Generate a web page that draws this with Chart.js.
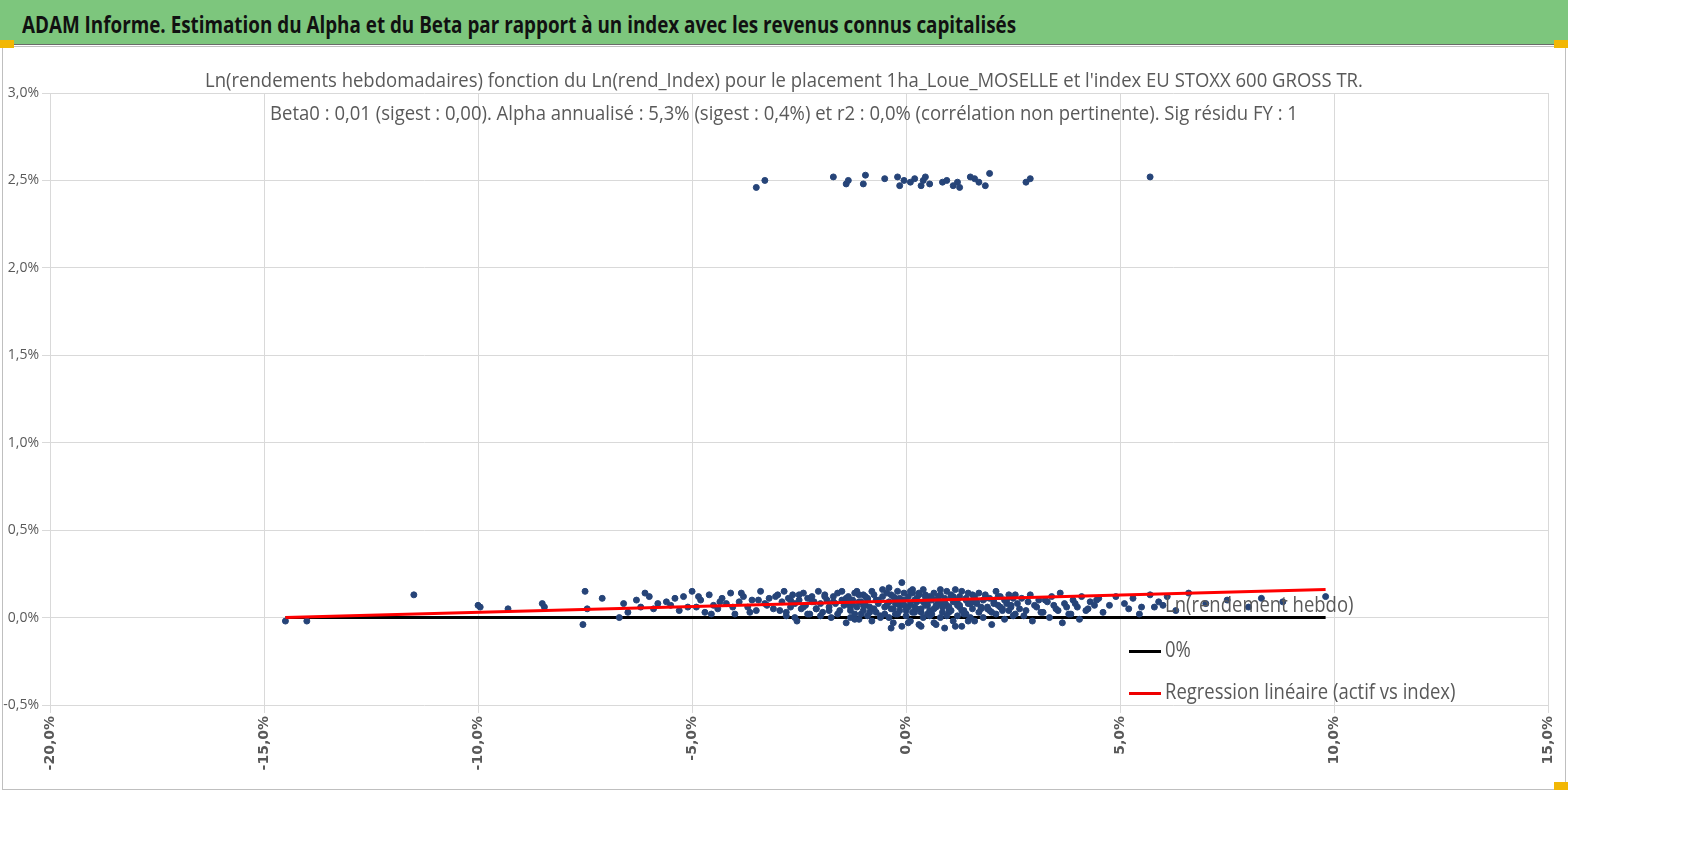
<!DOCTYPE html>
<html>
<head>
<meta charset="utf-8">
<script src="https://cdn.jsdelivr.net/npm/chart.js@4/dist/chart.umd.min.js"></script>
<style>
  body { margin: 0; background: #fff; width: 1698px; height: 855px; overflow: hidden; font-family: "Open Sans", "DejaVu Sans", sans-serif; }
  #header { position: absolute; left: 0; top: 0; width: 1568px; height: 44px; background: #7dc67d; border-bottom: 1px solid #6a6a6a; }
  #header span { position: absolute; left: 22px; top: 7px; font-size: 24px; font-weight: bold; color: #111; white-space: nowrap; transform: scaleX(0.785); transform-origin: left center; }
  #frame { position: absolute; left: 2px; top: 46px; width: 1562px; height: 742px; border: 1px solid #bfbfbf; }
  #wrap { position: absolute; left: 0; top: 48px; width: 1568px; height: 742px; }
  .sub { position: absolute; left: 0; width: 1568px; text-align: center; color: #595959; font-size: 20px; white-space: nowrap; transform: scaleX(0.925); transform-origin: center center; }
  .leg { position: absolute; color: #595959; font-size: 21px; white-space: nowrap; transform: scaleX(0.88); transform-origin: left center; }
  .legline { position: absolute; height: 3px; width: 32px; }
  .corner { position: absolute; width: 14px; height: 8px; background: #f2b705; }
</style>
</head>
<body>
<div id="header"><span>ADAM Informe. Estimation du Alpha et du Beta par rapport à un index avec les revenus connus capitalisés</span></div>
<div id="frame"></div>
<div id="wrap"><canvas id="c" width="1568" height="742"></canvas></div>
<div class="sub" style="top:66px">Ln(rendements hebdomadaires) fonction du Ln(rend_Index) pour le placement 1ha_Loue_MOSELLE et l'index EU STOXX 600 GROSS TR.</div>
<div class="sub" style="top:99px">Beta0 : 0,01 (sigest : 0,00). Alpha annualisé : 5,3% (sigest : 0,4%) et r2 : 0,0% (corrélation non pertinente). Sig résidu FY : 1</div>
<div class="leg" style="left:1165px;top:590px">Ln(rendement hebdo)</div>
<div class="legline" style="left:1129px;top:650px;background:#000"></div>
<div class="leg" style="left:1165px;top:635px">0%</div>
<div class="legline" style="left:1129px;top:692px;background:#e00"></div>
<div class="leg" style="left:1165px;top:677px">Regression linéaire (actif vs index)</div>
<div class="corner" style="left:0;top:40px"></div>
<div class="corner" style="left:1554px;top:40px"></div>
<div class="corner" style="left:1554px;top:782px"></div>
<script>
// --- DATA (percent units) ---
// weeks where the asset jumped ~2,5%
const highX = [-3.5, -3.3, -1.7, -1.4, -1.35, -1.0, -0.95, -0.5, -0.2, -0.15, -0.05, 0.1, 0.2, 0.35, 0.4, 0.45, 0.55, 0.85, 0.95, 1.1, 1.2, 1.25, 1.5, 1.6, 1.7, 1.85, 1.95, 2.8, 2.9, 5.7];
const highY = [2.46, 2.5, 2.52, 2.48, 2.5, 2.48, 2.53, 2.51, 2.52, 2.47, 2.5, 2.49, 2.51, 2.47, 2.5, 2.52, 2.48, 2.49, 2.5, 2.47, 2.49, 2.46, 2.52, 2.51, 2.49, 2.47, 2.54, 2.49, 2.51, 2.52];

// tails of the usual weeks
const tailX = [-14.5, -14.0, -11.5, -10.0, -9.95, -9.3, -8.5, -8.45, -7.55, -7.5, -7.45, -7.1, -6.7, -6.6, -6.5, -6.3, -6.2, -6.1, -6.0, -5.9, -5.8, -5.6, -5.5, -5.4, -5.3, -5.2, -5.1, -5.0,
  5.1, 5.2, 5.3, 5.45, 5.5, 5.7, 5.8, 5.9, 6.0, 6.1, 6.3, 6.6, 7.0, 7.5, 8.0, 8.3, 8.8, 9.8];
const tailY = [-0.02, -0.02, 0.13, 0.07, 0.06, 0.05, 0.08, 0.06, -0.04, 0.15, 0.05, 0.11, 0.0, 0.08, 0.03, 0.1, 0.06, 0.14, 0.12, 0.05, 0.08, 0.09, 0.07, 0.11, 0.04, 0.12, 0.06, 0.15,
  0.08, 0.05, 0.11, 0.02, 0.06, 0.13, 0.06, 0.09, 0.07, 0.12, 0.04, 0.14, 0.08, 0.1, 0.06, 0.11, 0.09, 0.12];

// dense core of the usual weeks
const coreX = [
  -4.9, -4.8, -4.7, -4.6, -4.5, -4.4, -4.3, -4.2, -4.1, -4.0, -3.9, -3.8, -3.7, -3.6, -3.5, -3.4, -3.3, -3.2, -3.1, -3.0,
  -4.85, -4.55, -4.35, -4.05, -3.85, -3.65, -3.45, -3.25, -3.05, -2.95, -2.9, -2.85, -2.8, -2.75, -2.7, -2.65, -2.6, -2.55, -2.5, -2.45,
  -2.4, -2.35, -2.3, -2.25, -2.2, -2.15, -2.1, -2.05, -2.0, -1.95, -1.9, -1.85, -1.8, -1.75, -1.7, -1.65, -1.6, -1.55, -1.5, -1.45,
  -2.8, -2.6, -2.4, -2.2, -2.0, -1.8, -1.6, -1.4, -1.2, -1.0, -2.7, -2.5, -2.3, -2.1, -1.9, -1.7, -1.5, -1.3, -1.1, -0.9,
  -1.4, -1.35, -1.3, -1.25, -1.2, -1.15, -1.1, -1.05, -1.0, -0.95, -0.9, -0.85, -0.8, -0.75, -0.7, -0.65, -0.6, -0.55, -0.5, -0.45,
  -1.4, -1.3, -1.2, -1.1, -1.0, -0.9, -0.8, -0.7, -0.6, -0.5, -1.35, -1.25, -1.15, -1.05, -0.95, -0.85, -0.75, -0.65, -0.55, -0.45,
  -0.4, -0.35, -0.3, -0.25, -0.2, -0.15, -0.1, -0.05, 0.0, 0.05, 0.1, 0.15, 0.2, 0.25, 0.3, 0.35, 0.4, 0.45, 0.5, 0.55,
  -0.4, -0.3, -0.2, -0.1, 0.0, 0.1, 0.2, 0.3, 0.4, 0.5, -0.35, -0.25, -0.15, -0.05, 0.05, 0.15, 0.25, 0.35, 0.45, 0.55,
  -0.4, -0.3, -0.2, -0.1, 0.0, 0.1, 0.2, 0.3, 0.4, 0.5, -0.35, -0.25, -0.15, -0.05, 0.05, 0.15, 0.25, 0.35, 0.45, 0.55,
  0.6, 0.65, 0.7, 0.75, 0.8, 0.85, 0.9, 0.95, 1.0, 1.05, 1.1, 1.15, 1.2, 1.25, 1.3, 1.35, 1.4, 1.45, 1.5, 1.55,
  0.6, 0.7, 0.8, 0.9, 1.0, 1.1, 1.2, 1.3, 1.4, 1.5, 0.65, 0.75, 0.85, 0.95, 1.05, 1.15, 1.25, 1.35, 1.45, 1.55,
  0.6, 0.7, 0.8, 0.9, 1.0, 1.1, 1.2, 1.3, 1.4, 1.5, 0.65, 0.75, 0.85, 0.95, 1.05, 1.15, 1.25, 1.35, 1.45, 1.55,
  1.6, 1.65, 1.7, 1.75, 1.8, 1.85, 1.9, 1.95, 2.0, 2.05, 2.1, 2.15, 2.2, 2.25, 2.3, 2.35, 2.4, 2.45, 2.5, 2.55,
  1.6, 1.7, 1.8, 1.9, 2.0, 2.1, 2.2, 2.3, 2.4, 2.5, 1.65, 1.75, 1.85, 1.95, 2.05, 2.15, 2.25, 2.35, 2.45, 2.55,
  2.6, 2.7, 2.8, 2.9, 3.0, 3.1, 3.2, 3.3, 3.4, 3.5, 3.6, 3.7, 3.8, 3.9, 4.0, 4.1, 4.2, 4.3, 4.4, 4.5,
  2.65, 2.75, 2.85, 2.95, 3.05, 3.15, 3.25, 3.35, 3.45, 3.55, 3.65, 3.75, 3.85, 3.95, 4.05, 4.25, 4.45, 4.6, 4.75, 4.9
];
const coreY = [
  0.06, 0.1, 0.03, 0.13, 0.07, 0.05, 0.11, 0.08, 0.14, 0.02, 0.09, 0.12, 0.06, 0.1, 0.04, 0.15, 0.08, 0.11, 0.05, 0.13,
  0.12, 0.02, 0.09, 0.06, 0.14, 0.03, 0.1, 0.07, 0.12, 0.04, 0.09, 0.15, 0.01, 0.11, 0.06, 0.13, 0.08, -0.02, 0.1, 0.05,
  0.14, 0.07, 0.11, 0.02, 0.12, 0.09, 0.05, 0.15, 0.08, 0.03, 0.13, 0.1, 0.06, 0.0, 0.12, 0.08, 0.14, 0.04, 0.1, 0.07,
  0.03, 0.0, 0.06, 0.09, 0.01, 0.04, 0.02, 0.11, -0.01, 0.07, 0.1, 0.13, 0.02, 0.05, 0.12, 0.09, 0.15, 0.06, 0.13, 0.1,
  0.08, 0.12, 0.04, 0.1, 0.14, 0.06, 0.09, 0.02, 0.13, 0.07, 0.11, 0.03, 0.15, 0.05, 0.1, 0.08, 0.01, 0.12, 0.06, 0.14,
  -0.03, 0.0, 0.02, -0.01, 0.04, 0.01, -0.02, 0.03, 0.0, 0.02, 0.11, 0.08, 0.15, 0.09, 0.12, 0.06, 0.13, 0.1, 0.16, 0.07,
  0.09, 0.13, 0.05, 0.11, 0.15, 0.07, 0.1, 0.14, 0.04, 0.12, 0.08, 0.16, 0.06, 0.11, 0.14, 0.03, 0.09, 0.13, 0.07, 0.12,
  0.0, -0.03, 0.02, -0.05, 0.01, -0.02, 0.03, -0.04, 0.0, 0.02, 0.05, 0.08, 0.04, 0.1, 0.06, 0.03, 0.09, 0.05, 0.07, 0.04,
  0.17, 0.12, 0.08, 0.2, 0.06, 0.15, 0.1, 0.13, 0.16, 0.09, -0.06, 0.02, 0.11, 0.07, -0.03, 0.14, 0.05, -0.05, 0.12, 0.01,
  0.1, 0.14, 0.06, 0.12, 0.16, 0.08, 0.11, 0.15, 0.05, 0.13, 0.09, 0.16, 0.07, 0.12, 0.15, 0.04, 0.1, 0.14, 0.08, 0.13,
  0.02, -0.04, 0.0, -0.06, 0.03, -0.02, 0.01, -0.05, 0.02, 0.0, 0.05, 0.08, 0.03, 0.07, 0.04, 0.09, 0.06, 0.02, 0.08, 0.05,
  0.11, 0.07, 0.13, 0.09, 0.06, 0.12, 0.1, 0.04, 0.11, 0.08, -0.03, 0.1, 0.06, 0.01, 0.12, -0.05, 0.07, 0.03, -0.02, 0.09,
  0.12, 0.08, 0.14, 0.05, 0.1, 0.13, 0.06, 0.11, 0.03, 0.09, 0.15, 0.07, 0.12, 0.04, 0.1, 0.08, 0.13, 0.06, 0.11, 0.02,
  -0.02, 0.03, 0.0, 0.05, -0.04, 0.02, 0.06, -0.01, 0.04, 0.01, 0.09, 0.06, 0.11, 0.04, 0.08, 0.12, 0.05, 0.1, 0.07, 0.13,
  0.08, 0.11, 0.04, 0.13, 0.07, 0.1, 0.03, 0.09, 0.12, 0.05, 0.14, 0.08, 0.02, 0.1, 0.06, 0.12, 0.04, 0.09, 0.07, 0.11,
  0.05, 0.01, 0.09, -0.02, 0.06, 0.03, 0.1, 0.0, 0.07, 0.04, -0.03, 0.06, 0.02, 0.08, -0.01, 0.05, 0.1, 0.03, 0.07, 0.12
];

// regression and zero line end points
const regX = [-14.5, 9.8];
const regY = [0.0, 0.16];
const zeroY = [0, 0];

const toPts = (xs, ys) => xs.map((x, i) => ({ x: x, y: ys[i] }));
const pct = v => v.toFixed(1).replace('.', ',') + '%';

new Chart(document.getElementById('c'), {
  type: 'scatter',
  data: {
    datasets: [
      { label: 'Ln(rendement hebdo)', data: toPts(coreX.concat(tailX, highX), coreY.concat(tailY, highY)),
        backgroundColor: '#264478', borderColor: '#264478', pointRadius: 3, pointHoverRadius: 3, order: 2 },
      { label: '0%', type: 'line', data: toPts(regX, zeroY), borderColor: '#000', borderWidth: 3, pointRadius: 0, order: 3 },
      { label: 'Regression linéaire (actif vs index)', type: 'line', data: toPts(regX, regY), borderColor: '#ff0000', borderWidth: 3, pointRadius: 0, order: 1 }
    ]
  },
  options: {
    responsive: false,
    animation: false,
    layout: { padding: { top: 45, right: 13, left: 0, bottom: 0 } },
    plugins: { legend: { display: false }, tooltip: { enabled: false } },
    scales: {
      x: {
        type: 'linear', min: -20, max: 15,
        ticks: { stepSize: 5, maxRotation: 90, minRotation: 90, color: '#595959', font: { family: 'DejaVu Sans', size: 14, weight: 'bold' }, callback: v => pct(v) },
        grid: { color: '#d9d9d9' }, border: { display: false },
        afterFit: a => { a.height = 85; }
      },
      y: {
        min: -0.5, max: 3.0,
        ticks: { stepSize: 0.5, color: '#595959', font: { family: 'Open Sans', size: 14 }, callback: v => pct(v) },
        grid: { color: '#d9d9d9' }, border: { display: false },
        afterFit: a => { a.width = 50; }
      }
    }
  }
});
</script>
</body>
</html>
